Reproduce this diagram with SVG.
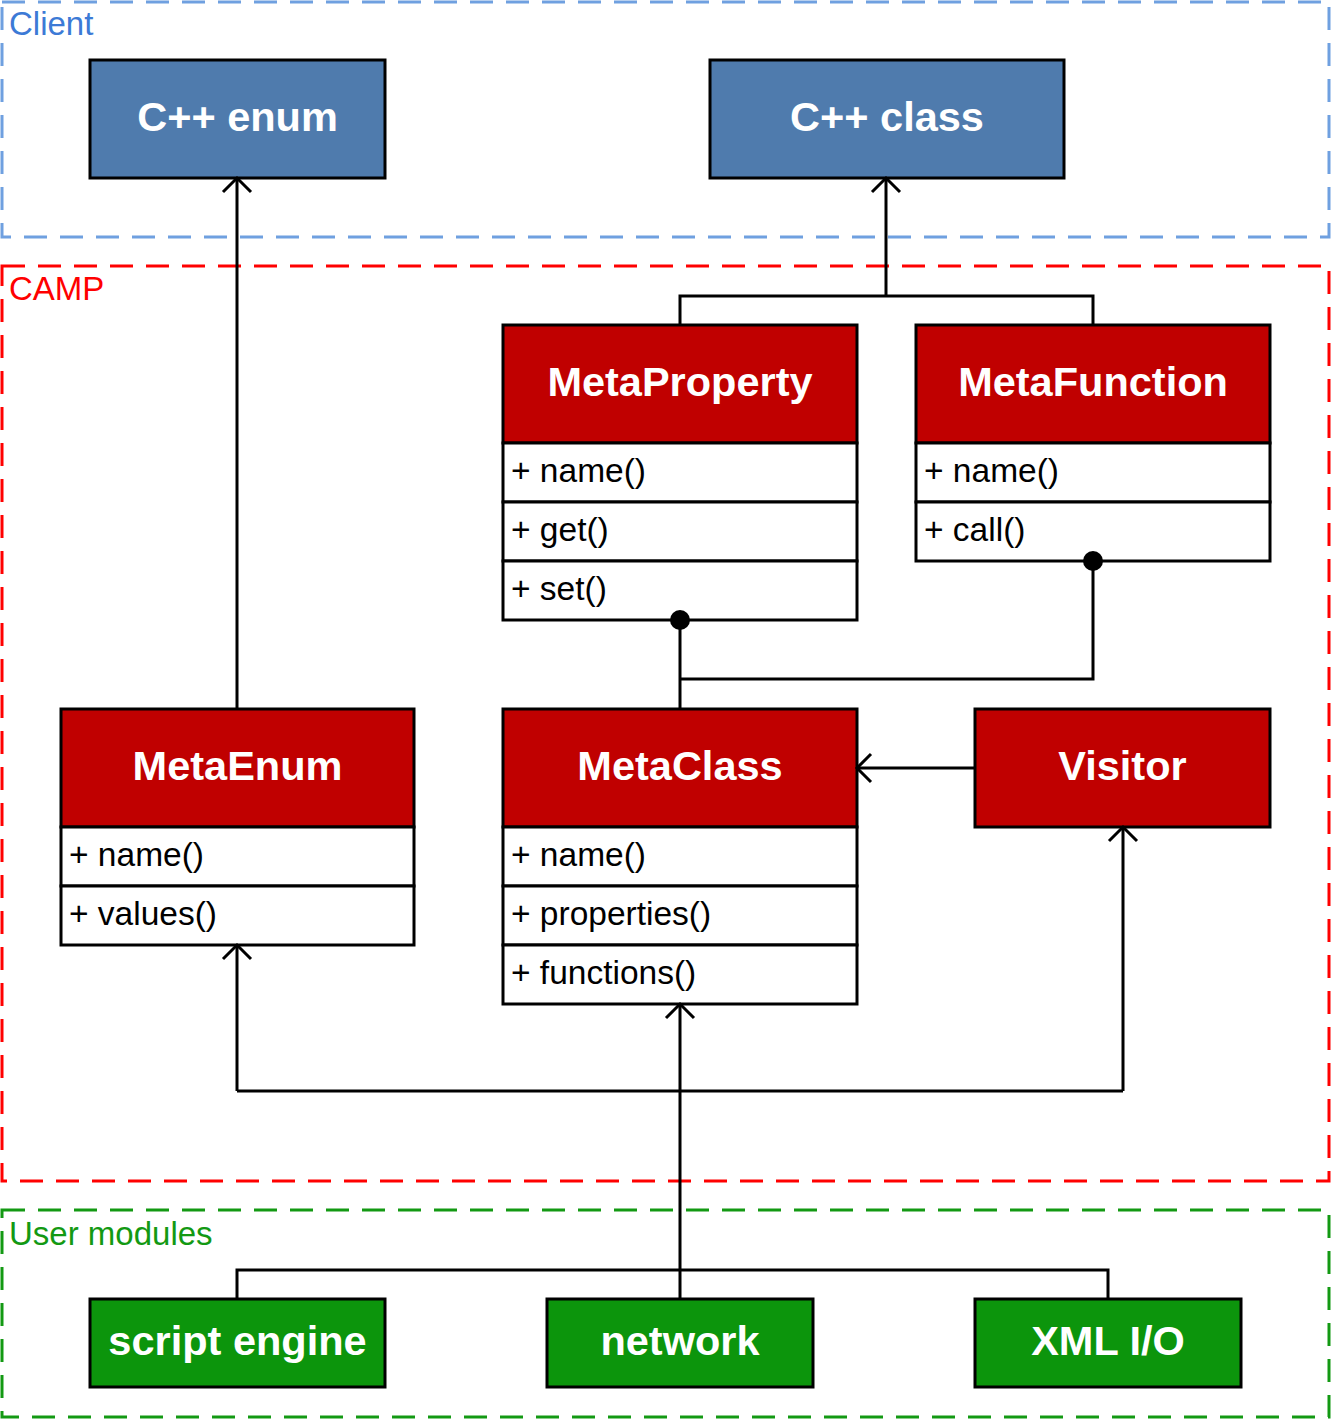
<svg xmlns="http://www.w3.org/2000/svg" width="1331" height="1419" viewBox="0 0 1331 1419">
<style>
.zone{fill:none;stroke-width:3;stroke-dasharray:23 13}
.zlbl{font-family:"Liberation Sans",Arial,sans-serif;font-size:33px}
.box{stroke:#000;stroke-width:3}
.hdr{fill:#C00000}
.row{fill:#fff}
.blue{fill:#4F7BAD}
.green{fill:#0C950C}
.ttl{font-family:"Liberation Sans",Arial,sans-serif;font-size:41.5px;font-weight:bold;fill:#fff;text-anchor:middle}
.mem{font-family:"Liberation Sans",Arial,sans-serif;font-size:33.5px;fill:#000}
.con{fill:none;stroke:#000;stroke-width:3}
</style>
<defs>
<marker id="arr" viewBox="-18 -18 22 36" refX="0" refY="0" markerWidth="22" markerHeight="36" markerUnits="userSpaceOnUse" orient="auto">
<path d="M-14,-14 L0,0 L-14,14" fill="none" stroke="#000" stroke-width="3"/>
</marker>
</defs>
<rect width="1331" height="1419" fill="#fff"/>
<g id="zone-client">
<rect class="zone" x="2" y="2" width="1327" height="235" stroke="#6FA0E0"/>
<text class="zlbl" x="9" y="35" fill="#3C7AD6">Client</text>
</g>
<g id="zone-camp">
<rect class="zone" x="2" y="266" width="1327" height="915" stroke="#FF0000"/>
<text class="zlbl" x="9" y="300" fill="#FF0000">CAMP</text>
</g>
<g id="zone-user">
<rect class="zone" x="2" y="1210" width="1327" height="207" stroke="#139913"/>
<text class="zlbl" x="9" y="1245" fill="#139913">User modules</text>
</g>
<g id="cpp-enum">
<rect class="box blue" x="90" y="60" width="295" height="118"/>
<text class="ttl" x="237.5" y="131">C++ enum</text>
</g>
<g id="cpp-class">
<rect class="box blue" x="710" y="60" width="354" height="118"/>
<text class="ttl" x="887" y="131">C++ class</text>
</g>
<g id="metaproperty">
<rect class="box hdr" x="503" y="325" width="354" height="118"/>
<rect class="box row" x="503" y="443" width="354" height="59"/>
<rect class="box row" x="503" y="502" width="354" height="59"/>
<rect class="box row" x="503" y="561" width="354" height="59"/>
<text class="ttl" x="680" y="396">MetaProperty</text>
<text class="mem" x="511" y="482">+ name()</text>
<text class="mem" x="511" y="541">+ get()</text>
<text class="mem" x="511" y="600">+ set()</text>
</g>
<g id="metafunction">
<rect class="box hdr" x="916" y="325" width="354" height="118"/>
<rect class="box row" x="916" y="443" width="354" height="59"/>
<rect class="box row" x="916" y="502" width="354" height="59"/>
<text class="ttl" x="1093" y="396">MetaFunction</text>
<text class="mem" x="924" y="482">+ name()</text>
<text class="mem" x="924" y="541">+ call()</text>
</g>
<g id="metaenum">
<rect class="box hdr" x="61" y="709" width="353" height="118"/>
<rect class="box row" x="61" y="827" width="353" height="59"/>
<rect class="box row" x="61" y="886" width="353" height="59"/>
<text class="ttl" x="237.5" y="780">MetaEnum</text>
<text class="mem" x="69" y="866">+ name()</text>
<text class="mem" x="69" y="925">+ values()</text>
</g>
<g id="metaclass">
<rect class="box hdr" x="503" y="709" width="354" height="118"/>
<rect class="box row" x="503" y="827" width="354" height="59"/>
<rect class="box row" x="503" y="886" width="354" height="59"/>
<rect class="box row" x="503" y="945" width="354" height="59"/>
<text class="ttl" x="680" y="780">MetaClass</text>
<text class="mem" x="511" y="866">+ name()</text>
<text class="mem" x="511" y="925">+ properties()</text>
<text class="mem" x="511" y="984">+ functions()</text>
</g>
<g id="visitor">
<rect class="box hdr" x="975" y="709" width="295" height="118"/>
<text class="ttl" x="1122.5" y="780">Visitor</text>
</g>
<g id="script-engine">
<rect class="box green" x="90" y="1299" width="295" height="88"/>
<text class="ttl" x="237.5" y="1355">script engine</text>
</g>
<g id="network">
<rect class="box green" x="547" y="1299" width="266" height="88"/>
<text class="ttl" x="680" y="1355">network</text>
</g>
<g id="xml-io">
<rect class="box green" x="975" y="1299" width="266" height="88"/>
<text class="ttl" x="1108" y="1355">XML I/O</text>
</g>
<g id="connectors">
<path class="con" d="M237,709 V178" marker-end="url(#arr)"/>
<path class="con" d="M680,325 V296 H1093 V325"/>
<path class="con" d="M886,296 V178" marker-end="url(#arr)"/>
<path class="con" d="M680,709 V620"/>
<path class="con" d="M680,679 H1093 V561"/>
<circle cx="680" cy="620" r="10" fill="#000"/>
<circle cx="1093" cy="561" r="10" fill="#000"/>
<path class="con" d="M975,768 H857" marker-end="url(#arr)"/>
<path class="con" d="M680,1299 V1004" marker-end="url(#arr)"/>
<path class="con" d="M237,1091 H1123"/>
<path class="con" d="M237,1091 V945" marker-end="url(#arr)"/>
<path class="con" d="M1123,1091 V827" marker-end="url(#arr)"/>
<path class="con" d="M237,1299 V1270 H1108 V1299"/>
</g>
</svg>
